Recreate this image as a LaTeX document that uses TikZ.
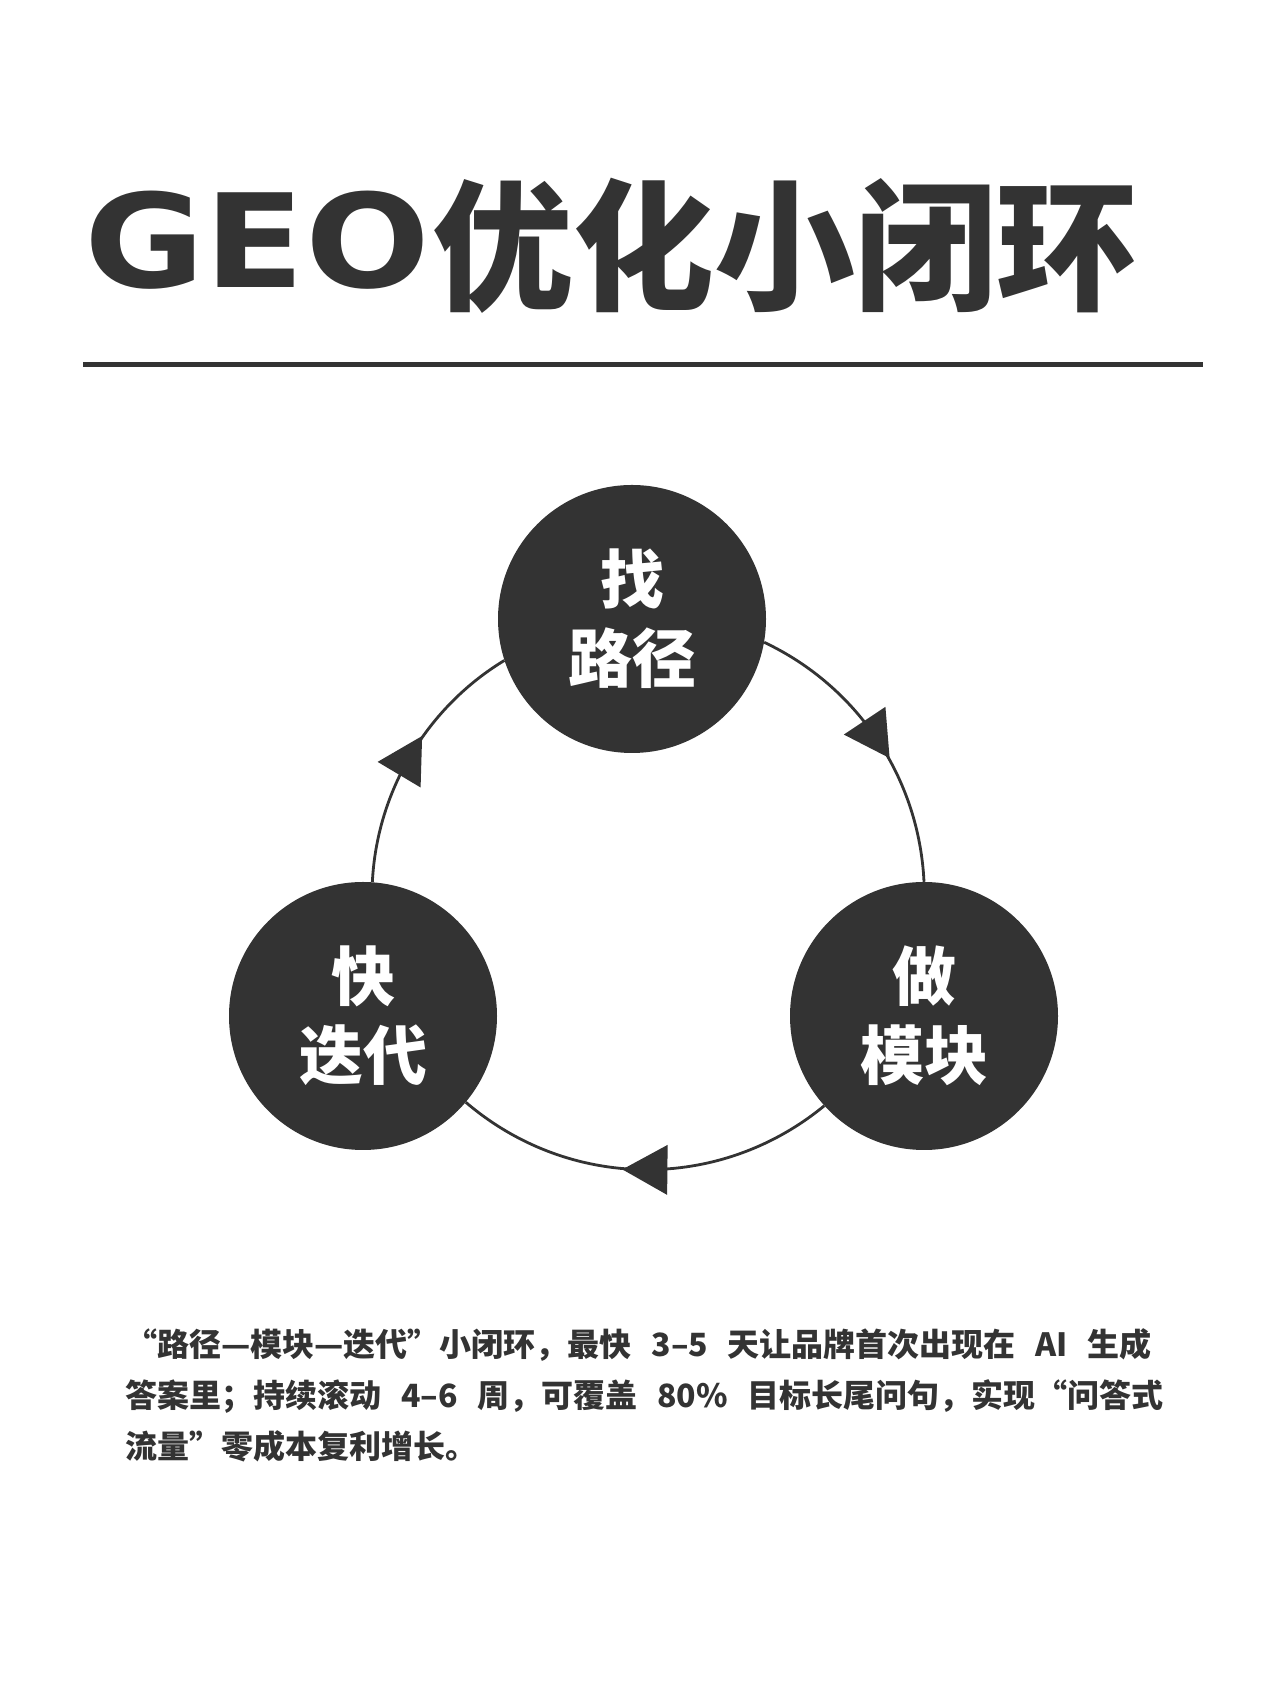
\documentclass[tikz,border=0pt]{standalone}
\usepackage{fontspec}
\setmainfont{Noto Sans CJK SC}
\newfontfamily\geofont{DejaVu Sans}
\usetikzlibrary{positioning,decorations.markings}
\definecolor{ink}{HTML}{333333}
\newcommand\widespaces{\spaceskip=0.62em\relax}

\begin{document}
\begin{tikzpicture}[x=1pt,y=1pt,
	loopnode/.style={shape=circle,fill=ink,minimum size=268pt,inner sep=0pt,
		text=white,align=center,font=\fontsize{64}{79}\selectfont\bfseries},
	flowline/.style={draw=ink,line width=2.8pt,postaction={decorate},
		decoration={markings,mark=at position 0.5 with
			{\fill[ink] (22pt,0pt) -- (-23pt,25pt) -- (-23pt,-25pt) -- cycle;}}}]
		\fill[white] (0,0) rectangle (1280,1706);
		\useasboundingbox (0,0) rectangle (1280,1706);

		% title and rule
		\node (titlegeo) [anchor=west,inner sep=0pt,text=ink,
			font=\fontsize{130}{130}\selectfont\geofont\bfseries] at (84,1466)
			{\scalebox{1.13}[1]{GEO}};
		\node (titlecn) [right=2pt of titlegeo,yshift=-6pt,inner sep=0pt,text=ink,
			font=\fontsize{141}{141}\selectfont\bfseries] {优化小闭环};
		\draw[ink,line width=5pt] (83,1341) -- (1203,1341);

		% create the nodes
		\node (zhao) [loopnode] at (632,1087) {找\\路径};
		\node (kuai) [loopnode] at (363,690) {快\\迭代};
		\node (zuo) [loopnode] at (924,690) {做\\模块};

		% connect the nodes
		\draw[flowline] (zhao.350) to[bend left=31,looseness=0.92] (zuo.90);
		\draw[flowline] (zuo.222) to[bend left=40,looseness=0.97] (kuai.320);
		\draw[flowline] (kuai.86) to[bend left=28,looseness=0.9] (zhao.198);

		% note below
		\node (note) [anchor=north west,inner sep=0pt,align=left,text=ink,
			font=\fontsize{32}{51}\selectfont\bfseries\widespaces]
			at (125,378)
			{“路径—模块—迭代”小闭环，最快 3–5 天让品牌首次出现在 AI 生成\\
			答案里；持续滚动 4–6 周，可覆盖 80\% 目标长尾问句，实现“问答式\\
			流量”零成本复利增长。};

	\end{tikzpicture}
\end{document}
